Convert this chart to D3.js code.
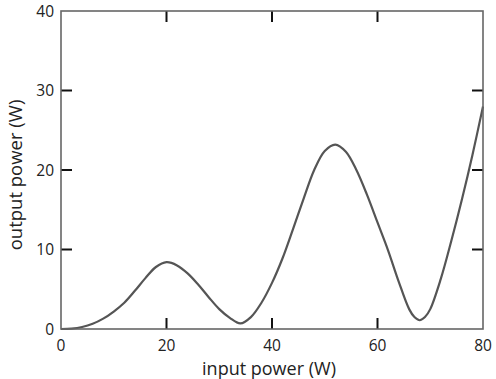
<!DOCTYPE html>
<html><head><meta charset="utf-8">
<script src="https://cdn.jsdelivr.net/npm/d3@7"></script>
<style>body{margin:0;background:#fff;} svg{display:block;}</style>
</head><body>
<svg id="c" width="496" height="379"></svg>
<script>
const inputPower = [0,2,4,6,8,10,12,14,16,18,20,22,24,26,28,30,32,34,36,38,40,42,44,46,48,50,52,54,56,58,60,62,64,66,67,68,69,70,72,74,76,78,80];
const outputPower = [0,0.05,0.25,0.65,1.3,2.2,3.3,4.8,6.4,7.8,8.4,8.0,7.0,5.6,4.0,2.5,1.4,0.7,1.5,3.3,5.8,8.9,12.6,16.4,20.0,22.4,23.2,22.3,20.0,16.9,13.4,9.9,6.0,2.5,1.5,1.1,1.5,2.5,6.3,11.1,16.3,21.9,28.0];
const xTicks = [0,20,40,60,80];
const yTicks = [0,10,20,30,40];
const xTitle = "input power (W)";
const yTitle = "output power (W)";

const svg = d3.select("#c");
const L=61, R=483, T=11, B=329;
const x = d3.scaleLinear().domain([0,80]).range([L,R]);
const y = d3.scaleLinear().domain([0,40]).range([B,T]);
const font = "'Open Sans', sans-serif";

// curve
const line = d3.line().x((d,i)=>x(inputPower[i])).y(d=>y(d)).curve(d3.curveCatmullRom.alpha(0.5));
svg.append("path").datum(outputPower).attr("d",line)
  .attr("fill","none").attr("stroke","#555").attr("stroke-width",2.2);

// inward ticks
const inner = v => v>0 && v<80;
const innerY = v => v>0 && v<40;
const tl = 11;
const g = svg.append("g").attr("stroke","#111").attr("stroke-width",2);
xTicks.filter(inner).forEach(v=>{
  g.append("line").attr("x1",x(v)).attr("x2",x(v)).attr("y1",B).attr("y2",B-tl);
  g.append("line").attr("x1",x(v)).attr("x2",x(v)).attr("y1",T).attr("y2",T+tl);
});
yTicks.filter(innerY).forEach(v=>{
  g.append("line").attr("y1",y(v)).attr("y2",y(v)).attr("x1",L).attr("x2",L+tl);
  g.append("line").attr("y1",y(v)).attr("y2",y(v)).attr("x1",R).attr("x2",R-tl);
});

// frame
svg.append("rect").attr("x",L).attr("y",T).attr("width",R-L).attr("height",B-T)
  .attr("fill","none").attr("stroke","#666").attr("stroke-width",1.6);

// tick labels
svg.append("g").selectAll("text").data(xTicks).join("text")
  .attr("x",d=>x(d)).attr("y",B+22).attr("text-anchor","middle")
  .attr("font-family",font).attr("font-size",15.5).attr("fill","#222").text(d=>d);
svg.append("g").selectAll("text").data(yTicks).join("text")
  .attr("x",L-7).attr("y",d=>y(d)).attr("dy","0.36em").attr("text-anchor","end")
  .attr("font-family",font).attr("font-size",15.5).attr("fill","#222").text(d=>d);

// titles
svg.append("text").attr("x",(L+R)/2 - 3).attr("y",375).attr("text-anchor","middle")
  .attr("font-family",font).attr("font-size",18).attr("fill","#222").text(xTitle);
svg.append("text").attr("transform",`translate(22,${175}) rotate(-90)`).attr("text-anchor","middle")
  .attr("font-family",font).attr("font-size",18.5).attr("fill","#222").text(yTitle);
</script>
</body></html>
